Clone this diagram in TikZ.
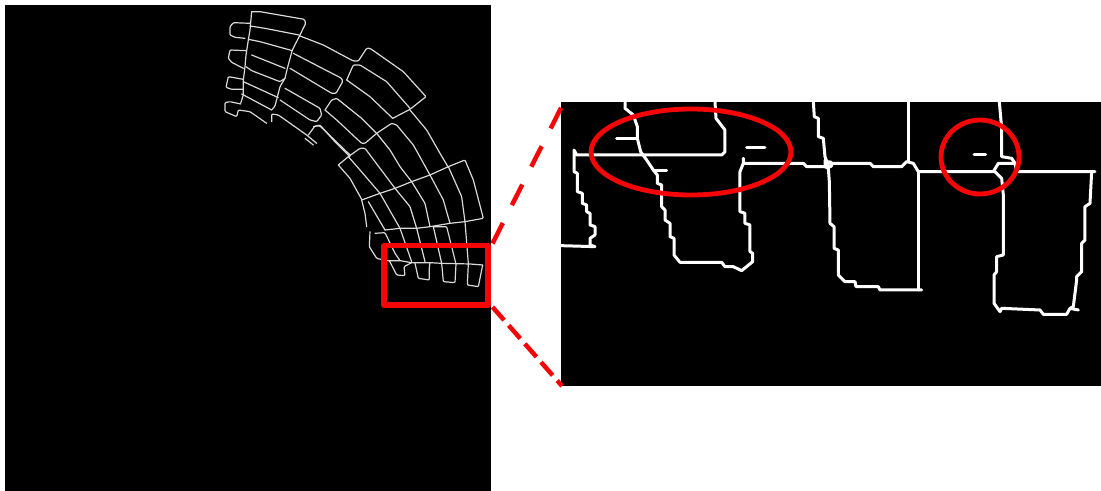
\documentclass[tikz,border=0pt]{standalone}
\definecolor{markred}{RGB}{245,5,5}
\tikzset{
  thin edge/.style={draw=white!85!black,line width=1.2bp,line join=round,line cap=round,rounded corners=1bp},
  thick edge/.style={draw=white,line width=3bp,line join=round,line cap=round},
  mark ring/.style={draw=markred,line width=4.8bp},
  zoom guide/.style={draw=markred,line width=4.5bp}
}
\begin{document}
\begin{tikzpicture}[x=1bp,y=-1bp]
\useasboundingbox (0,0) rectangle (1101,491);
\fill[white] (0,0) rectangle (1101,491);
\fill[black] (5,5) rectangle (491,491);
\fill[black] (561,102) rectangle (1101,386);
% overview, upper part
\begin{scope}[shift={(210,0)},x=0.33333bp,y=-0.33333bp,thin edge]
\draw (125,35)--(150,35)--(283,58)--(287,70)--(270,105)--(247,150)--(232,205)--(225,235)--(210,260)--(195,318)--(185,330);
\draw (125,35)--(120,90)--(115,120)--(108,165)--(105,200)--(100,240)--(100,285)--(92,310);
\draw (120,78)--(165,85)--(267,105);
\draw (115,118)--(150,125)--(247,152);
\draw (125,165)--(225,205);
\draw (108,200)--(125,212)--(210,245)--(225,235);
\draw (100,245)--(205,293);
\draw (95,282)--(185,330);
\draw (120,70)--(70,68)--(60,80)--(60,105)--(75,112)--(105,115);
\draw (108,152)--(60,150)--(55,175)--(65,187)--(100,205);
\draw (100,238)--(55,230)--(48,262)--(65,268)--(100,268);
\draw (92,312)--(60,305)--(45,308)--(45,335)--(80,350)--(85,330)--(120,335)--(170,370);
\draw (185,365)--(185,342)--(205,345)--(290,405)--(320,430);
\draw (285,415)--(310,435);
\draw (295,405)--(315,378)--(330,378)--(420,465);
\draw (270,108)--(340,135)--(430,183)--(445,183)--(470,145)--(480,145)--(580,215)--(648,290)--(600,328)--(548,355);
\draw (250,160)--(395,235)--(398,245)--(378,280)--(365,280)--(240,205);
\draw (410,240)--(430,195)--(450,195)--(530,245)--(600,325);
\draw (410,240)--(480,290)--(548,355);
\draw (225,265)--(330,325)--(335,345)--(320,365)--(300,360)--(210,300);
\end{scope}
% overview, middle part
\begin{scope}[shift={(300,90)},x=0.33333bp,y=-0.33333bp,thin edge]
\draw (75,60)--(95,30)--(110,25)--(185,85)--(230,130)--(270,180)--(300,230)--(335,275);
\draw (75,60)--(110,90)--(185,160)--(195,160)--(230,130)--(275,100)--(290,105)--(340,165)--(390,255);
\draw (330,60)--(380,120)--(420,190)--(445,232);
\draw (115,225)--(145,200)--(180,175)--(195,175)--(240,235)--(285,295);
\draw (145,200)--(180,240)--(240,310);
\draw (115,225)--(150,265)--(185,328);
\draw (40,110)--(60,105)--(100,150)--(150,200);
\end{scope}
% overview, lower part
\begin{scope}[shift={(330,110)},x=0.33333bp,y=-0.33333bp,thin edge]
\draw (95,270)--(150,250)--(195,235)--(245,215)--(300,195)--(355,170)--(405,150)--(430,210)--(460,325)--(405,335)--(360,340)--(300,350)--(260,355)--(210,355)--(165,360);
\draw (95,270)--(105,310)--(110,350);
\draw (115,275)--(165,360);
\draw (150,250)--(190,320)--(210,355)--(245,455);
\draw (195,235)--(240,290)--(260,355)--(285,455);
\draw (245,215)--(285,280)--(300,350);
\draw (300,195)--(340,270)--(360,340);
\draw (355,170)--(395,260)--(405,335)--(415,460);
\draw (120,365)--(118,410)--(140,445)--(170,452)--(210,452)--(245,458)--(300,458)--(335,460)--(420,462)--(458,465);
\draw (135,370)--(165,368)--(195,430)--(210,452);
\draw (178,452)--(200,495)--(225,497)--(222,470)--(245,458);
\draw (255,460)--(265,505)--(298,510)--(298,470)--(300,458);
\draw (310,350)--(350,350)--(370,430)--(378,462)--(375,518)--(340,515)--(335,460)--(310,350);
\draw (415,460)--(412,525)--(445,530)--(458,465);
\end{scope}
% red frame and guides
\draw[mark ring,line width=5.5bp,line join=round] (384,245.5) rectangle (488,305);
\coordinate (frameTop) at (492.5,243.5);
\coordinate (frameBot) at (492.5,307);
\coordinate (zoomTop) at (562,106);
\coordinate (zoomBot) at (562,386);
\draw[zoom guide,dash pattern=on 23bp off 20bp] (frameTop)--(zoomTop);
\draw[zoom guide,dash pattern=on 17.5bp off 7bp] (frameBot)--(zoomBot);
% magnified view, left
\begin{scope}[shift={(550,95)},x=0.33333bp,y=-0.33333bp,thick edge]
\draw (225,20)--(225,40)--(250,60)--(262,95)--(262,130)--(272,170)--(290,195)--(310,225)--(322,240)--(322,265)--(335,270)--(335,335)--(345,345)--(345,375)--(360,385)--(360,425)--(372,430)--(372,480)--(390,502)--(515,502)--(525,515)--(550,515)--(575,527)--(608,500)--(608,475)--(600,470)--(600,390)--(585,385)--(585,355)--(570,350)--(570,230)--(580,205)--(580,190);
\draw (495,20)--(498,70)--(525,105)--(525,170)--(515,180)--(80,180)--(72,165)--(72,230)--(82,235)--(82,290)--(97,295)--(97,325)--(110,330)--(110,350)--(120,355)--(120,390)--(135,395)--(135,420)--(120,430)--(120,450)--(135,455)--(33,452);
\draw (200,132)--(262,132);
\draw (310,228)--(350,228);
\draw (590,157)--(645,157);
\draw (580,205)--(760,205)--(770,215)--(830,215);
\draw (790,20)--(793,65)--(805,70)--(805,125)--(820,130)--(825,185)--(835,212);
\end{scope}
% magnified view, right
\begin{scope}[shift={(820,95)},x=0.33333bp,y=-0.33333bp,thick edge]
\draw (15,195)--(15,215)--(25,220)--(28,260)--(30,385)--(42,395)--(42,460)--(55,465)--(55,540)--(75,560)--(105,560)--(108,575)--(175,575)--(180,585)--(305,585);
\draw (265,20)--(265,200);
\draw (30,205)--(150,205)--(160,215)--(245,215)--(260,200)--(280,205)--(295,230)--(520,230);
\draw (295,230)--(295,585);
\draw (538,20)--(545,100)--(545,185)--(575,190)--(585,205)--(590,230)--(825,230);
\draw (520,230)--(535,205)--(585,205);
\draw (525,230)--(545,250)--(550,300)--(550,480)--(530,485)--(530,530)--(522,540)--(522,625)--(540,650)--(545,640)--(660,645)--(670,658)--(740,658)--(750,640)--(775,645);
\draw (750,640)--(760,635)--(770,555)--(770,545)--(785,530)--(785,445)--(795,435)--(795,335)--(810,325)--(815,230);
\draw (28,208) circle[radius=8];
\draw (462,180)--(497,180);
\end{scope}
% red ellipses
\draw[mark ring] (691,152) ellipse[x radius=100,y radius=43];
\draw[mark ring] (980,157) ellipse[x radius=39,y radius=37];
\end{tikzpicture}
\end{document}
